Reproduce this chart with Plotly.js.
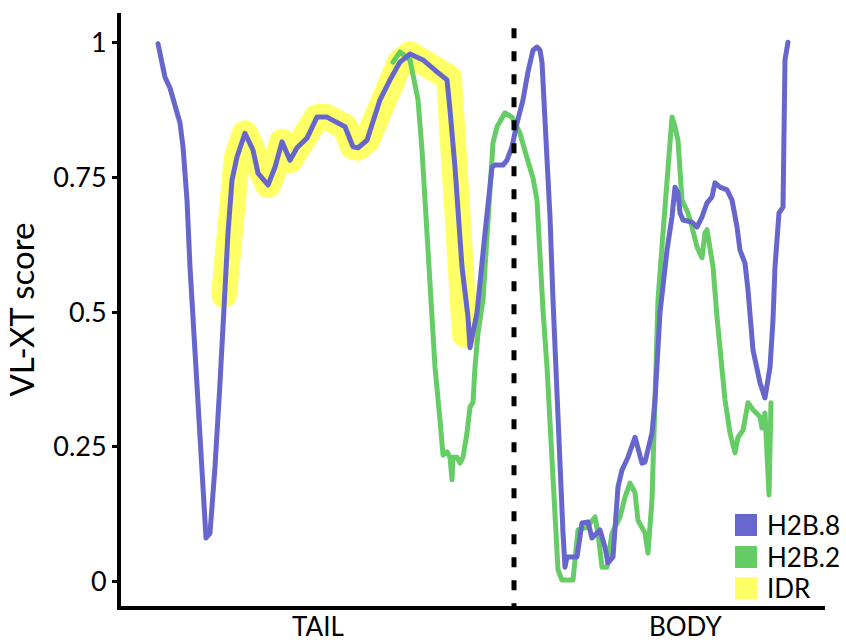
<!DOCTYPE html>
<html>
<head>
<meta charset="utf-8">
<script src="https://cdn.plot.ly/plotly-3.0.1.min.js"></script>
<style>
  html, body { margin: 0; padding: 0; background: #fff; }
  #chart { width: 846px; height: 643px; }
  .js-line { stroke-linejoin: round; stroke-linecap: round; }
</style>
</head>
<body>
<div id="chart"></div>
<script>
// Position along the protein (arbitrary units)
const h2b8X = [37,44,49,59,62,66,69,72,76,81,85,89,94,99,102,107,111,116,124,132,137,147,154,161,169,176,186,196,206,216,224,232,237,246,252,259,269,279,289,302,314,326,329,334,341,347,349,356,364,371,374,382,386,391,396,402,407,412,416,419,421,426,429,432,437,442,444,446,456,461,467,471,479,484,487,492,497,501,507,514,521,524,531,534,539,546,551,554,557,559,562,571,576,581,586,591,594,599,606,611,616,619,624,627,632,639,644,649,652,654,658,662,663,664,667];
const h2b8Y = [0.998,0.936,0.916,0.851,0.807,0.708,0.584,0.491,0.337,0.183,0.081,0.090,0.213,0.369,0.491,0.647,0.745,0.788,0.832,0.801,0.758,0.736,0.769,0.816,0.782,0.805,0.823,0.862,0.862,0.853,0.844,0.807,0.805,0.819,0.851,0.894,0.931,0.964,0.979,0.968,0.949,0.931,0.875,0.769,0.584,0.491,0.434,0.499,0.647,0.769,0.773,0.773,0.782,0.807,0.851,0.894,0.946,0.986,0.992,0.986,0.964,0.801,0.677,0.523,0.276,0.090,0.027,0.046,0.046,0.109,0.111,0.081,0.096,0.064,0.035,0.046,0.176,0.207,0.231,0.268,0.220,0.222,0.276,0.337,0.499,0.615,0.677,0.732,0.721,0.684,0.671,0.667,0.658,0.677,0.703,0.714,0.740,0.732,0.727,0.708,0.658,0.615,0.591,0.541,0.430,0.369,0.341,0.398,0.486,0.584,0.684,0.695,0.832,0.968,1.001];

const h2b2X = [272,279,289,294,297,301,304,308,311,314,319,322,326,329,331,332,336,339,342,346,349,352,354,357,362,366,369,372,376,384,391,399,406,412,416,419,422,426,432,437,441,452,457,466,474,477,481,486,491,499,504,509,514,517,524,527,531,534,537,542,547,551,554,557,561,564,567,571,576,581,584,586,589,592,596,599,604,609,614,617,622,627,632,639,641,644,648,650];
const h2b2Y = [0.964,0.983,0.968,0.925,0.894,0.801,0.708,0.615,0.491,0.398,0.300,0.235,0.241,0.231,0.189,0.231,0.231,0.220,0.231,0.276,0.324,0.333,0.398,0.461,0.523,0.647,0.740,0.814,0.844,0.870,0.862,0.832,0.786,0.749,0.708,0.584,0.504,0.398,0.213,0.022,0.003,0.003,0.096,0.101,0.120,0.090,0.027,0.027,0.090,0.120,0.157,0.183,0.165,0.114,0.090,0.053,0.152,0.337,0.523,0.647,0.769,0.862,0.844,0.819,0.708,0.695,0.684,0.658,0.621,0.601,0.647,0.653,0.615,0.584,0.491,0.430,0.337,0.276,0.239,0.268,0.281,0.332,0.319,0.306,0.285,0.313,0.161,0.332];

const idrX = [103,107,111,116,124,132,137,147,154,161,169,176,186,196,206,216,224,232,237,246,252,259,269,279,289,302,314,328,330,334,341,344];
const idrY = [0.532,0.647,0.745,0.788,0.832,0.801,0.758,0.736,0.769,0.816,0.782,0.805,0.823,0.862,0.862,0.853,0.844,0.807,0.805,0.819,0.851,0.894,0.931,0.964,0.979,0.968,0.949,0.935,0.875,0.769,0.584,0.458];

const seriesNames = ['H2B.8', 'H2B.2', 'IDR'];
const seriesColors = ['#6666cc', '#66cc66', '#ffff66'];

const domainBoundary = 393;     // tail / body boundary position
const regionLabels = ['TAIL', 'BODY'];
const regionLabelPos = [197, 564];

const yTickVals = [0, 0.25, 0.5, 0.75, 1];
const yTickText = ['0', '0.25', '0.5', '0.75', '1'];

const FONT = 'Lato, Open Sans, sans-serif';

const traces = [
  { x: idrX, y: idrY, mode: 'lines', name: seriesNames[2], line: { color: seriesColors[2], width: 26 }, hoverinfo: 'skip' },
  { x: h2b2X, y: h2b2Y, mode: 'lines', name: seriesNames[1], line: { color: seriesColors[1], width: 5 } },
  { x: h2b8X, y: h2b8Y, mode: 'lines', name: seriesNames[0], line: { color: seriesColors[0], width: 5 } }
];

// Legend: square swatches + labels in the lower-right corner
const legendRowsPx = [525, 557, 588];
const plotTop = 13, plotBottom = 606, plotLeft = 121, plotW = 704;
const pY = (px) => (plotBottom - px) / (plotBottom - plotTop);
const pX = (px) => (px - plotLeft) / plotW;
const shapes = [{
  type: 'line', xref: 'x', yref: 'y',
  x0: domainBoundary, x1: domainBoundary, y0: 1.027, y1: -0.0451,
  line: { color: '#000', width: 5, dash: '10px,13px' }
}];
const annotations = [];
seriesNames.forEach((n, i) => {
  const c = legendRowsPx[i];
  shapes.push({
    type: 'rect', xref: 'paper', yref: 'paper',
    x0: pX(735), x1: pX(757), y0: pY(c + 11), y1: pY(c - 11),
    fillcolor: seriesColors[i], line: { width: 0 }
  });
  annotations.push({
    xref: 'paper', yref: 'paper', x: pX(766), y: pY(c),
    xanchor: 'left', yanchor: 'middle', showarrow: false, borderpad: 0,
    text: n, font: { family: FONT, size: 26, color: '#000' }
  });
});
regionLabels.forEach((t, i) => {
  annotations.push({
    xref: 'x', yref: 'paper', x: regionLabelPos[i], y: pY(642.5),
    xanchor: 'center', yanchor: 'bottom', showarrow: false, borderpad: 0,
    text: t, font: { family: FONT, size: 26, color: '#000' }
  });
});

const layout = {
  width: 846, height: 643,
  margin: { l: 121, r: 21, t: 13, b: 37 },
  paper_bgcolor: '#fff', plot_bgcolor: '#fff',
  font: { family: FONT, color: '#000' },
  showlegend: false,
  xaxis: {
    range: [0, 704], showgrid: false, zeroline: false,
    showline: true, linecolor: '#000', linewidth: 4,
    showticklabels: false, ticks: ''
  },
  yaxis: {
    range: [-0.0451, 1.0551], showgrid: false, zeroline: false,
    showline: true, linecolor: '#000', linewidth: 4,
    tickmode: 'array', tickvals: yTickVals, ticktext: yTickText,
    ticks: 'outside', ticklen: 5, tickwidth: 3, tickcolor: '#000',
    tickfont: { family: FONT, size: 27, color: '#000' },
    title: { text: 'VL-XT score', font: { family: FONT, size: 33, color: '#000' }, standoff: 10 }
  },
  shapes: shapes,
  annotations: annotations
};

Plotly.newPlot('chart', traces, layout, { displayModeBar: false, staticPlot: true });
</script>
</body>
</html>
